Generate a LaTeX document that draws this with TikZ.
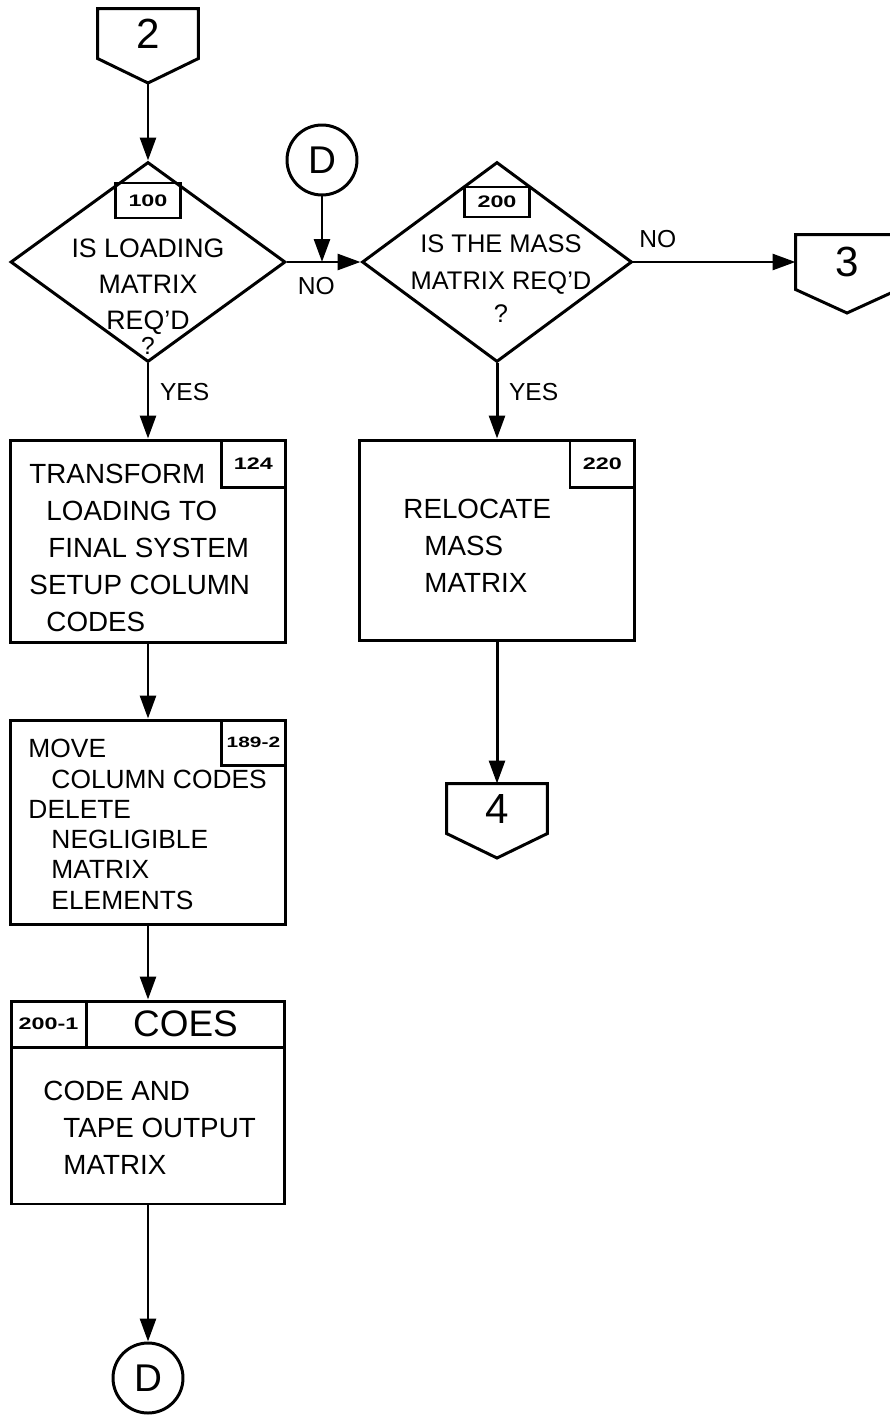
\documentclass[tikz,border=0pt]{standalone}
\usepackage{fontspec}
\setmainfont{Liberation Sans}
\newfontfamily\tagfont[FakeStretch=1.4]{Liberation Sans}
\usetikzlibrary{shapes.geometric, arrows.meta, positioning}

\begin{document}
\begin{tikzpicture}[
  x=0.02cm, y=-0.02cm, line width=1.7pt,
  >={Triangle[length=13pt, width=9pt]},
  decision/.style={draw, diamond, inner sep=0pt, minimum width=5.5cm, minimum height=4cm},
  process/.style={draw, rectangle, inner sep=0pt, minimum width=5.5cm, minimum height=4.06cm},
  tagbox/.style={draw, rectangle, inner sep=0pt, font=\tagfont\bfseries\fontsize{9.5}{9.5}\selectfont},
  body/.style={align=left, anchor=north west, inner sep=0pt, font=\fontsize{15.8}{21}\selectfont},
  yesno/.style={inner sep=0pt, font=\fontsize{14}{14}\selectfont},
  connector/.style={draw, circle, minimum size=1.4cm, inner sep=0pt, font=\fontsize{22}{22}\selectfont},
  offpage/.style={rectangle, inner sep=0pt, minimum width=1.96cm, minimum height=0.94cm, font=\fontsize{24}{24}\selectfont}
]
  \useasboundingbox (0,0) rectangle (889,1416);

  % entry from page 2
  \node[offpage] (p2) at (148,33.5) {2};
  \coordinate (p2tip) at (148,83);
  \draw (p2.north west) -- (p2.north east) -- (p2.south east) -- (p2tip) -- (p2.south west) -- cycle;

  % first decision
  \node[decision] (d1) at (148,262) {};
  \node[tagbox, minimum width=1.3cm, minimum height=0.7cm] (t100) at (148,200.5) {100};
  \node[body, anchor=north, align=center, font=\fontsize{15.2}{20.5}\selectfont] (d1txt) at (148,237) {IS LOADING\\MATRIX\\REQ'D\\[-6pt]{\fontsize{14}{14}\selectfont ?}};

  % second decision
  \node[connector] (dtop) at (322,160) {D};
  \coordinate (j1) at (322,262);
  \node[decision, minimum width=5.4cm] (d2) at (497,262) {};
  \node[tagbox, minimum width=1.3cm, minimum height=0.6cm] (t200) at (497,202) {200};
  \node[body, anchor=north, align=center, font=\fontsize{14.5}{21}\selectfont] (d2txt) at (501,233) {IS THE MASS\\MATRIX REQ'D\\[-2pt]?};

  \node[offpage, minimum width=2cm, minimum height=1.04cm] (p3) at (847,262) {3};
  \coordinate (p3tip) at (847,313);
  \draw (p3.north west) -- (p3.north east) -- (p3.south east) -- (p3tip) -- (p3.south west) -- cycle;

  % loading matrix branch
  \node[process] (b124) at (148,541.5) {};
  \node[tagbox, anchor=north east, minimum width=1.28cm, minimum height=0.94cm] (t124) at (b124.north east) {124};
  \node[body] (b124txt) at (28,463) {TRANSFORM\\\hspace*{0.34cm}LOADING TO\\\hspace*{0.38cm}FINAL SYSTEM\\SETUP COLUMN\\\hspace*{0.34cm}CODES};

  \node[process, minimum height=4.1cm] (b189) at (148,822.5) {};
  \node[tagbox, anchor=north east, minimum width=1.28cm, minimum height=0.9cm, font=\tagfont\bfseries\fontsize{8.5}{8.5}\selectfont] (t189) at (b189.north east) {189-2};
  \node[body, font=\fontsize{15}{17.2}\selectfont] (b189txt) at (27,738) {MOVE\\\hspace*{0.46cm}COLUMN CODES\\DELETE\\\hspace*{0.46cm}NEGLIGIBLE\\\hspace*{0.46cm}MATRIX\\\hspace*{0.46cm}ELEMENTS};

  \node[process, minimum width=5.48cm] (bcoes) at (148,1102.5) {};
  \node[tagbox, anchor=north west, minimum width=1.5cm, minimum height=0.92cm] (t2001) at (bcoes.north west) {200-1};
  \node[draw, anchor=north east, inner sep=0pt, minimum width=3.98cm, minimum height=0.92cm, font=\fontsize{21}{21}\selectfont] (hcoes) at (bcoes.north east) {COES};
  \node[body] (bcoestxt) at (42,1080) {CODE AND\\\hspace*{0.4cm}TAPE OUTPUT\\\hspace*{0.4cm}MATRIX};

  \node[connector] (dbot) at (148,1378) {D};

  % mass matrix branch
  \node[process, minimum width=5.52cm, minimum height=4.02cm] (b220) at (497,540.5) {};
  \node[tagbox, anchor=north east, minimum width=1.3cm, minimum height=0.94cm] (t220) at (b220.north east) {220};
  \node[body] (b220txt) at (402,498) {RELOCATE\\\hspace*{0.42cm}MASS\\\hspace*{0.42cm}MATRIX};

  \node[offpage] (p4) at (497,808.5) {4};
  \coordinate (p4tip) at (497,858);
  \draw (p4.north west) -- (p4.north east) -- (p4.south east) -- (p4tip) -- (p4.south west) -- cycle;

  % connectors
  \draw[->] (p2tip) -- (d1.north);
  \draw[->] (d1.south) -- node[yesno, pos=0.38, right=6pt] {YES} (b124.north);
  \draw[->] (d1.east) -- node[yesno, pos=0.4, below=8pt] {NO} (d2.west);
  \draw[->] (dtop.south) -- (j1);
  \draw[->] (d2.east) -- node[yesno, pos=0.15, above=7pt] {NO} (p3.west);
  \draw[->] (d2.south) -- node[yesno, pos=0.38, right=6pt] {YES} (b220.north);
  \draw[->] (b220.south) -- (p4.north);
  \draw[->] (b124.south) -- (b189.north);
  \draw[->] (b189.south) -- (bcoes.north);
  \draw[->] (bcoes.south) -- (dbot.north);
\end{tikzpicture}
\end{document}
